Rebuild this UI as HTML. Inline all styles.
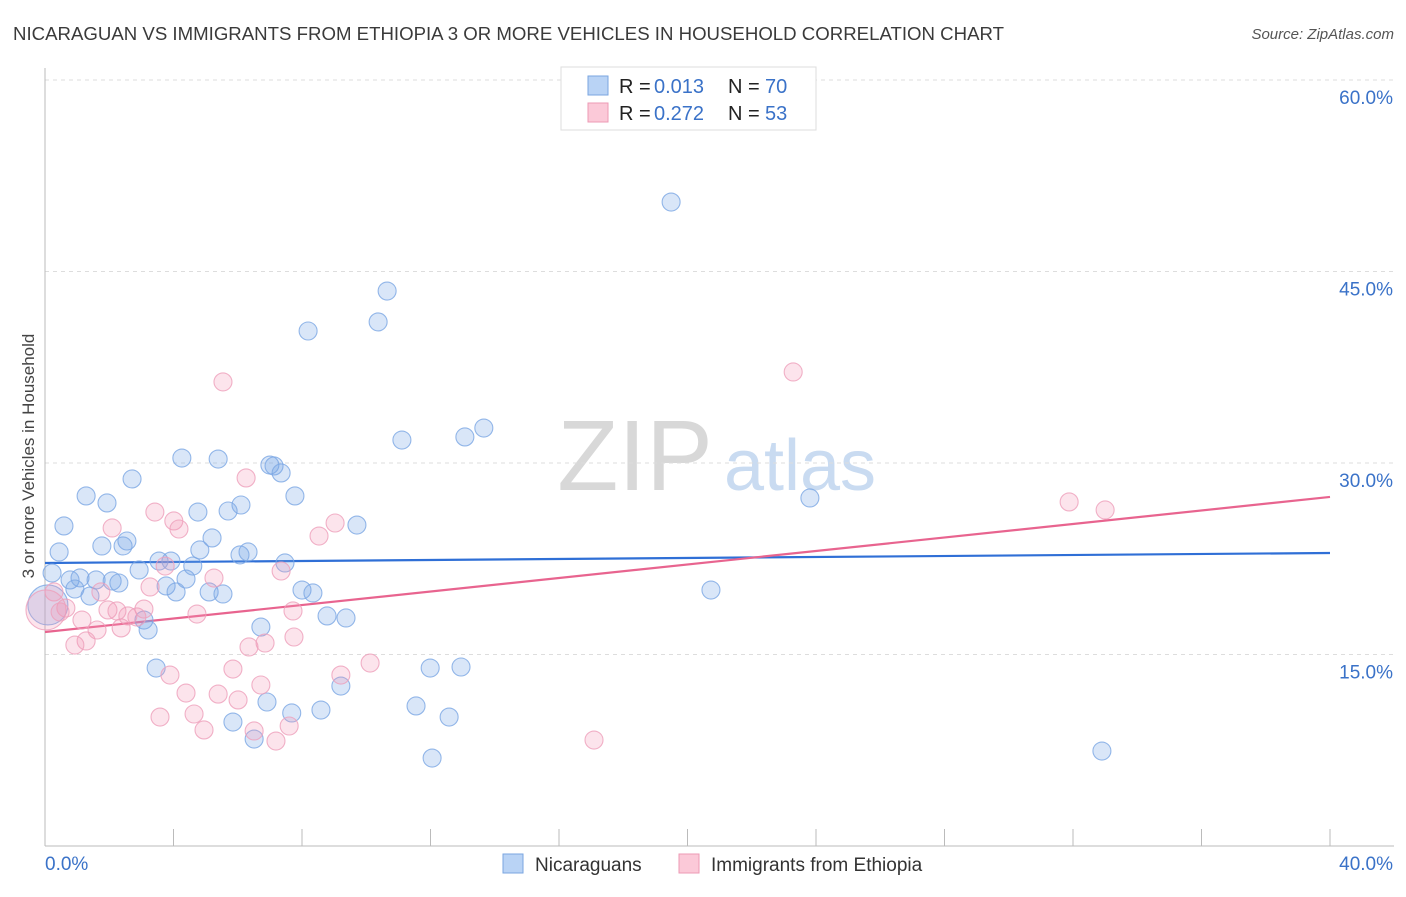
<!DOCTYPE html>
<html><head><meta charset="utf-8"><style>
body{margin:0;background:#fff;font-family:"Liberation Sans",sans-serif;}
svg text{font-family:"Liberation Sans",sans-serif;}
</style></head><body>
<svg id="chart" width="1406" height="892" xmlns="http://www.w3.org/2000/svg">
<text x="13" y="40" font-size="18" fill="#3a3a3a" textLength="991" lengthAdjust="spacingAndGlyphs">NICARAGUAN VS IMMIGRANTS FROM ETHIOPIA 3 OR MORE VEHICLES IN HOUSEHOLD CORRELATION CHART</text>
<text x="1394" y="39" font-size="15" fill="#555" font-style="italic" text-anchor="end">Source: ZipAtlas.com</text>
<text transform="translate(34,456) rotate(-90)" font-size="17" fill="#444" text-anchor="middle">3 or more Vehicles in Household</text>
<g>
<text x="635" y="490" font-size="100" fill="#d8d8d8" font-family="Liberation Serif,serif" text-anchor="middle">ZIP</text>
<text x="800" y="490" font-size="72" fill="#c9dbf1" text-anchor="middle">atlas</text>
</g>
<g id="grid"></g><g id="axes"></g><g id="trends"></g><g id="points"></g>
<g>
<rect x="561" y="67" width="255" height="63" fill="#fff" stroke="#ddd"/>
<rect x="588" y="76" width="20" height="19" fill="#b9d3f5" stroke="#7aa6e0"/>
<rect x="588" y="103" width="20" height="19" fill="#fbc9d8" stroke="#ec9ab5"/>
<text x="619" y="93" font-size="20" fill="#222">R =</text>
<text x="654" y="93" font-size="20" fill="#3a72c8">0.013</text>
<text x="728" y="93" font-size="20" fill="#222">N =</text>
<text x="765" y="93" font-size="20" fill="#3a72c8">70</text>
<text x="619" y="120" font-size="20" fill="#222">R =</text>
<text x="654" y="120" font-size="20" fill="#3a72c8">0.272</text>
<text x="728" y="120" font-size="20" fill="#222">N =</text>
<text x="765" y="120" font-size="20" fill="#3a72c8">53</text>
</g>
<g>
<rect x="503" y="854" width="20" height="19" fill="#b9d3f5" stroke="#7aa6e0"/>
<text x="535" y="871" font-size="19" fill="#333">Nicaraguans</text>
<rect x="679" y="854" width="20" height="19" fill="#fbc9d8" stroke="#ec9ab5"/>
<text x="711" y="871" font-size="19" fill="#333">Immigrants from Ethiopia</text>
</g>
</svg>
<script>
const yTicks=[15,30,45,60];
const yTickLabels=["15.0%","30.0%","45.0%","60.0%"];
const xTickCount=10;
const xMin=0,xMax=40,yMin=0,yMax=60;
const blueX=[19.49,10.65,10.37,8.19,11.11,13.07,13.66,4.26,5.39,7.00,7.13,7.35,2.71,1.28,1.93,7.78,6.10,5.70,4.76,23.81,0.59,9.71,1.77,2.55,2.43,5.20,0.44,6.32,6.07,4.82,3.55,3.92,7.47,4.60,2.93,0.22,0.78,1.09,1.59,2.09,2.30,4.39,0.93,3.77,4.08,1.40,5.11,5.54,8.00,8.34,20.73,8.78,9.37,3.08,3.21,6.72,3.46,11.99,12.95,9.21,6.91,7.68,8.59,11.55,12.58,5.85,6.51,12.05,32.90,0.09];
const blueY=[50.44,43.47,41.05,40.34,31.80,32.04,32.74,30.39,30.31,29.84,29.77,29.22,28.75,27.42,26.87,27.42,26.71,26.24,26.16,27.26,25.07,25.14,23.50,23.89,23.50,24.13,23.03,23.03,22.80,23.19,22.32,22.32,22.17,21.93,21.62,21.38,20.84,21.00,20.84,20.76,20.60,20.91,20.13,20.37,19.90,19.58,19.90,19.74,20.05,19.82,20.05,18.02,17.86,17.70,16.92,17.15,13.94,13.94,14.02,12.53,11.28,10.42,10.65,10.97,10.10,9.71,8.38,6.89,7.44,18.88];
const pinkX=[5.54,23.29,31.88,33.00,6.26,3.42,4.01,4.17,2.09,9.03,8.53,3.74,5.26,7.35,3.27,1.74,0.28,0.65,1.96,2.24,3.08,2.58,2.86,4.73,7.72,1.15,1.62,2.37,1.28,0.93,7.75,6.85,6.35,5.85,3.89,9.21,10.12,6.72,4.39,5.39,6.01,3.58,4.64,4.95,6.51,7.60,7.19,17.09,0.03,0.47];
const pinkY=[36.35,37.13,26.95,26.32,28.83,26.16,25.46,24.83,24.91,25.30,24.28,21.93,20.99,21.54,20.29,19.90,19.90,18.64,18.49,18.41,18.56,18.02,17.94,18.17,18.41,17.70,16.92,17.08,16.06,15.74,16.37,15.90,15.59,13.86,13.39,13.39,14.33,12.61,11.98,11.90,11.44,10.10,10.34,9.09,9.01,9.40,8.22,8.30,18.49,18.33];
const blueTrend=[22.17,22.95];
const pinkTrend=[16.76,27.34];
const NS="http://www.w3.org/2000/svg";
const L=45,R=1330,T=80,B=846;
function sx(v){return L+(v-xMin)/(xMax-xMin)*(R-L);}
function sy(v){return B-(v-yMin)/(yMax-yMin)*(B-T);}
function mk(tag,attrs,parent){const e=document.createElementNS(NS,tag);for(const k in attrs)e.setAttribute(k,attrs[k]);document.getElementById(parent).appendChild(e);return e;}
yTicks.forEach((t,i)=>{
 const g=mk('line',{x1:L,x2:1394,y1:sy(t),y2:sy(t),stroke:'#ddd','stroke-dasharray':'4,4'},'grid');
 
 
 const tx=mk('text',{x:1393,y:sy(t)+24,'font-size':19,fill:'#3a72c8','text-anchor':'end'},'grid');
 tx.textContent=yTickLabels[i];
 
 
});
const ax=mk('line',{x1:L,x2:L,y1:68,y2:B,stroke:'#bbb'},'axes');


const bx=mk('line',{x1:L,x2:1394,y1:B,y2:B,stroke:'#bbb'},'axes');


for(let i=1;i<=xTickCount;i++){
 const v=xMin+i*(xMax-xMin)/xTickCount;
 const t=mk('line',{x1:sx(v),x2:sx(v),y1:829,y2:B,stroke:'#bbb'},'axes');
 
 
}
const xl0=mk('text',{x:45,y:870,'font-size':19,fill:'#3a72c8'},'axes');xl0.textContent='0.0%';


const xl1=mk('text',{x:1393,y:870,'font-size':19,fill:'#3a72c8','text-anchor':'end'},'axes');xl1.textContent='40.0%';


function pts(xs,ys,fill,stroke,name){
 xs.forEach((x,i)=>{
  const big=(x<0.2);
  const c=mk('circle',{cx:sx(x),cy:sy(ys[i]),r:big?20:9,fill:fill,stroke:stroke,'stroke-width':1.1,'stroke-opacity':0.8},'points');
  
  
 });
}
pts(blueX,blueY,'rgba(120,165,230,0.28)','#7aa6e4','point-nicaraguans');
pts(pinkX,pinkY,'rgba(245,150,180,0.26)','#ee9fba','point-ethiopia');
const bl=mk('line',{x1:sx(xMin),y1:sy(blueTrend[0]),x2:sx(xMax),y2:sy(blueTrend[1]),stroke:'#2f6fd6','stroke-width':2.2},'trends');


const pl=mk('line',{x1:sx(xMin),y1:sy(pinkTrend[0]),x2:sx(xMax),y2:sy(pinkTrend[1]),stroke:'#e8648f','stroke-width':2.2},'trends');


</script>
</body></html>
